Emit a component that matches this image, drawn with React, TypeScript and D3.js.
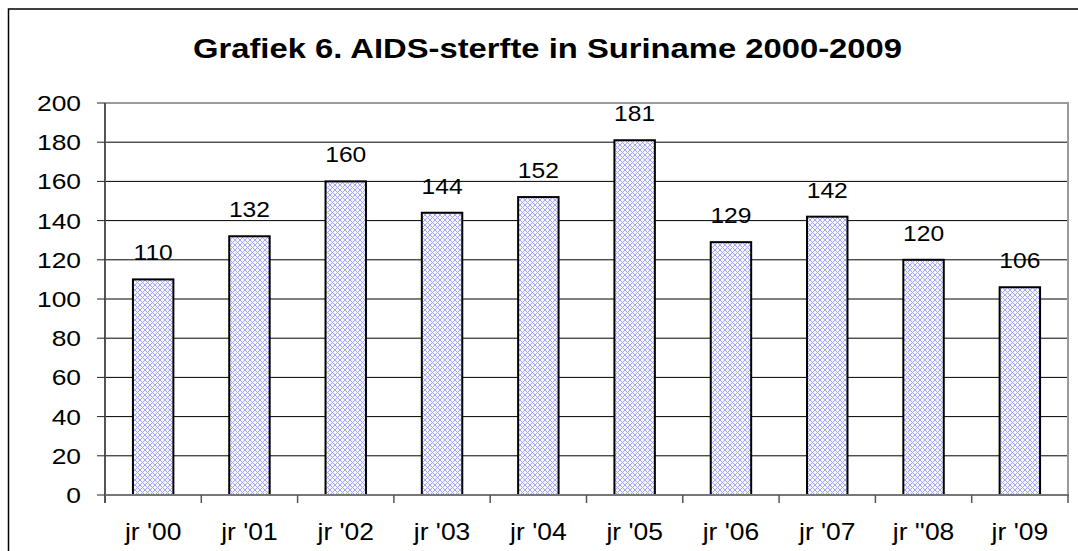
import React from "react";
import * as d3 from "d3";

const categories = ["jr '00", "jr '01", "jr '02", "jr '03", "jr '04", "jr '05", "jr '06", "jr '07", "jr ''08", "jr '09"];
const values = [110, 132, 160, 144, 152, 181, 129, 142, 120, 106];
const yTicks = [0, 20, 40, 60, 80, 100, 120, 140, 160, 180, 200];
const title = "Grafiek 6. AIDS-sterfte in Suriname 2000-2009";

const W = 1078;
const H = 551;
const left = 105;
const right = 1068;
const top = 103;
const bottom = 495;

export default function App() {
  const x = d3.scaleBand<string>().domain(categories).range([left, right]).padding(0);
  const y = d3.scaleLinear().domain([0, 200]).range([bottom, top]);
  const bw = x.bandwidth() * 0.42;
  const font = "'Liberation Sans', Arial, sans-serif";

  return (
    <svg width={W} height={H} style={{ position: "fixed", left: 0, top: 0, background: "#fff" }} fontFamily={font}>
      <defs>
        <pattern id="hatch" width={5} height={5} patternUnits="userSpaceOnUse">
          <rect width={5} height={5} fill="#f6f6ff" />
          <path d="M0,0 L5,5 M5,0 L0,5" stroke="#a4a4f8" strokeWidth={1} />
        </pattern>
      </defs>
      <rect x={8.5} y={9} width={W + 20} height={H + 20} fill="#fff" stroke="#000" strokeWidth={1.5} />
      <text
        transform={`translate(${(193 + 902) / 2},58)`}
        textAnchor="middle"
        fontSize={28}
        fontWeight="bold"
        textLength={709}
        lengthAdjust="spacingAndGlyphs"
      >
        {title}
      </text>
      {yTicks.filter((t) => t > 0 && t < 200).map((t) => (
        <line key={t} x1={left} x2={right} y1={y(t)} y2={y(t)} stroke="#000" strokeWidth={1} />
      ))}
      <line x1={left} x2={right + 1} y1={y(200)} y2={y(200)} stroke="#9a9a9a" strokeWidth={2} />
      <line x1={right} x2={right} y1={y(200)} y2={bottom} stroke="#9a9a9a" strokeWidth={2} />
      {categories.map((c, i) => {
        const cx = (x(c) as number) + x.bandwidth() / 2;
        return (
          <g key={c}>
            <rect x={cx - bw / 2} y={y(values[i])} width={bw} height={bottom - y(values[i])} fill="url(#hatch)" stroke="#000" strokeWidth={2} />
            <text transform={`translate(${cx},${y(values[i]) - 19}) scale(1.12,1)`} textAnchor="middle" fontSize={22}>
              {values[i]}
            </text>
            <text transform={`translate(${cx},540) scale(1.15,1)`} textAnchor="middle" fontSize={23}>
              {c}
            </text>
          </g>
        );
      })}
      <line x1={left} x2={left} y1={top} y2={bottom + 8} stroke="#555" strokeWidth={2} />
      {yTicks.map((t) => (
        <g key={t}>
          <line x1={left - 8} x2={left} y1={y(t)} y2={y(t)} stroke="#222" strokeWidth={1} />
          <text transform={`translate(81,${y(t) + 8}) scale(1.2,1)`} textAnchor="end" fontSize={22}>
            {t}
          </text>
        </g>
      ))}
      <line x1={left} x2={right + 1} y1={bottom} y2={bottom} stroke="#777" strokeWidth={2} />
      {d3.range(categories.length + 1).map((i) => {
        const tx = left + i * x.step();
        return <line key={i} x1={tx} x2={tx} y1={bottom} y2={bottom + 8} stroke="#555" strokeWidth={1.5} />;
      })}
    </svg>
  );
}
